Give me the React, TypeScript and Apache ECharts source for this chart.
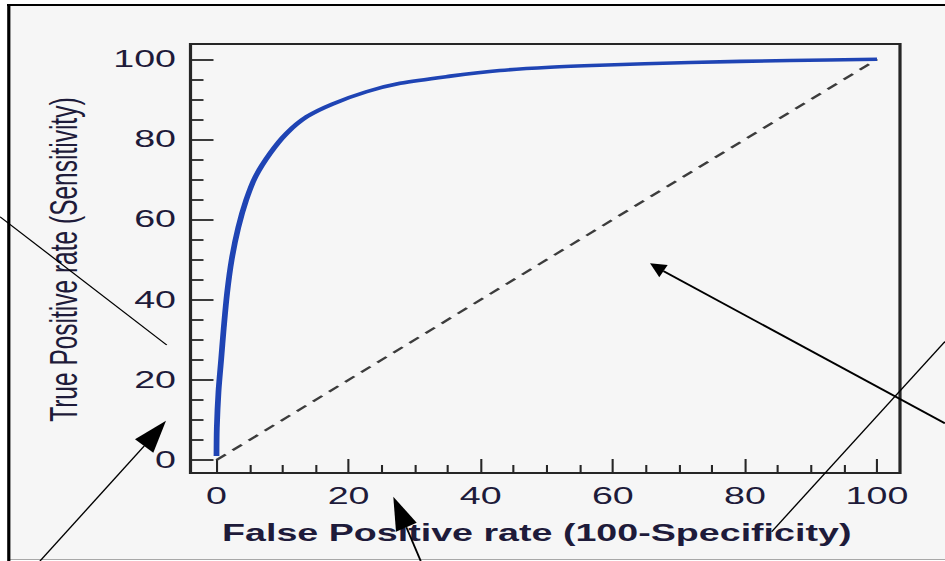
import React, { useEffect, useRef } from "react";
import * as echarts from "echarts";

// ---- data ----
const rocFpr = [0, 0.05, 0.3, 0.7, 1.1, 1.6, 2.3, 3.3, 4.5, 5.9, 8.1, 10.6, 13.7, 17.5, 22.7, 27.8, 35.4, 42.9, 50.5, 58.0, 71.7, 86.8, 100];
const rocTpr = [1, 8, 17, 25, 33, 41.6, 50, 58.0, 64.9, 70.7, 76.5, 81.5, 85.7, 88.8, 91.9, 94.0, 95.8, 97.2, 98.0, 98.5, 99.2, 99.7, 100];
const chanceFpr = [0, 100];
const chanceTpr = [0, 100];
const axisMin = 0;
const axisMax = 100;
const majorStep = 20;
const xTitle = "False Positive rate (100-Specificity)";
const yTitle = "True Positive rate (Sensitivity)";

// ---- layout (the original picture is stretched horizontally) ----
const W = 590;
const H = 561;
const S = 945 / W;
const px = (v: number) => v / S;

const TEXT = "#1e1b3a";
const FONT = "'Liberation Sans', Arial, sans-serif";
const INK = "#262626";

// annotation strokes drawn on top of the picture (final pixel coordinates)
const annoLines: { p: number[][]; w: number }[] = [
  { p: [[0, 216.7], [166.7, 345]], w: 1 },
  { p: [[40, 561], [144.2, 446]], w: 1 },
  { p: [[420.7, 561], [406.3, 527.2]], w: 1.2 },
  { p: [[945, 423.3], [663.5, 271.2]], w: 1.6 },
  { p: [[945, 341.5], [771.7, 531.7]], w: 1 },
];
const annoHeads: number[][][] = [
  [[166, 420.7], [135, 439.3], [153.3, 452.7]],
  [[393.3, 496.7], [396, 531.7], [416.7, 522.7]],
  [[650, 263.3], [667.7, 265], [659.3, 277.3]],
];

export default function App() {
  const ref = useRef<HTMLDivElement>(null);
  useEffect(() => {
    if (!ref.current) return;
    const chart = echarts.init(ref.current, null, { renderer: "svg", width: W, height: H });
    const roc = rocFpr.map((x, i) => [x, rocTpr[i]]);
    const chance = chanceFpr.map((x, i) => [x, chanceTpr[i]]);

    const graphics: any[] = [
      { type: "rect", z: -10, silent: true, shape: { x: px(8), y: 5, width: W, height: 555 }, style: { fill: "#f6f6f6" } },
      { type: "line", z: -9, silent: true, shape: { x1: px(8), y1: 559.5, x2: W, y2: 559.5 }, style: { stroke: "#a8a8a8", lineWidth: 1 } },
      { type: "line", z: -9, silent: true, shape: { x1: px(7), y1: 5, x2: W, y2: 5 }, style: { stroke: "#000", lineWidth: 2 } },
      { type: "line", z: -9, silent: true, shape: { x1: px(8.8), y1: 4, x2: px(8.8), y2: H }, style: { stroke: "#000", lineWidth: 2 } },
    ];
    annoLines.forEach((l) => {
      graphics.push({
        type: "line",
        z: 100,
        silent: true,
        shape: { x1: px(l.p[0][0]), y1: l.p[0][1], x2: px(l.p[1][0]), y2: l.p[1][1] },
        style: { stroke: "#000", lineWidth: l.w },
      });
    });
    annoHeads.forEach((h) => {
      graphics.push({
        type: "polygon",
        z: 100,
        silent: true,
        shape: { points: h.map((q) => [px(q[0]), q[1]]) },
        style: { fill: "#000" },
      });
    });

    const labelStyle = { color: TEXT, fontFamily: FONT, fontSize: 23.5, lineHeight: 24 };
    const tickStyle = { color: INK, width: 1.8 };

    chart.setOption({
      animation: false,
      backgroundColor: "#ffffff",
      graphic: graphics,
      grid: [
        {
          left: px(190.5), right: W - px(900), top: 44, bottom: H - 473,
          show: true, borderColor: INK, borderWidth: 2, backgroundColor: "transparent",
          outerBoundsMode: "none", containLabel: false,
        },
        {
          left: px(216.5), right: W - px(877), top: 59.3, bottom: H - 460,
          outerBoundsMode: "none", containLabel: false,
        },
      ],
      xAxis: [
        { gridIndex: 0, type: "value", show: false, min: 0, max: 1 },
        {
          gridIndex: 1, type: "value", min: axisMin, max: axisMax, interval: majorStep,
          position: "bottom",
          offset: 13,
          axisLine: { show: false, onZero: false },
          axisTick: { show: true, inside: true, length: 14, lineStyle: { color: INK, width: 1.3 } },
          minorTick: { show: true, splitNumber: 4, length: 8, lineStyle: { color: INK, width: 1.3 } },
          splitLine: { show: false },
          axisLabel: { ...labelStyle, margin: 11 },
          name: xTitle, nameLocation: "middle", nameGap: 48,
          nameTextStyle: { ...labelStyle, fontWeight: "bold", padding: [0, 12.5, 0, 0] },
        },
      ],
      yAxis: [
        { gridIndex: 0, type: "value", show: false, min: 0, max: 1 },
        {
          gridIndex: 1, type: "value", min: axisMin, max: axisMax, interval: majorStep,
          position: "left",
          offset: px(216.5) - px(190.5),
          axisLine: { show: false, onZero: false },
          axisTick: { show: true, inside: true, length: px(23), lineStyle: tickStyle },
          minorTick: { show: true, splitNumber: 4, length: px(13), lineStyle: tickStyle },
          splitLine: { show: false },
          axisLabel: { ...labelStyle, margin: px(14.5) },
          name: yTitle, nameLocation: "middle", nameGap: 67.5, nameRotate: 90,
          nameTextStyle: { ...labelStyle, fontSize: 24.5 },
        },
      ],
      series: [
        {
          type: "line", xAxisIndex: 1, yAxisIndex: 1, data: chance,
          showSymbol: false, symbol: "none", clip: false, silent: true, z: 2,
          lineStyle: { color: "#3c3c3c", width: 2, type: [8, 6] },
        },
        {
          type: "line", xAxisIndex: 1, yAxisIndex: 1, data: roc,
          showSymbol: false, symbol: "none", clip: false, silent: true, smooth: 0.3, z: 3,
          lineStyle: { color: "#1f44b4", width: 3.6 },
        },
      ],
    });
    return () => chart.dispose();
  }, []);

  return (
    <div
      ref={ref}
      style={{
        position: "fixed",
        left: 0,
        top: 0,
        width: W,
        height: H,
        transform: `scaleX(${S})`,
        transformOrigin: "0 0",
      }}
    />
  );
}
